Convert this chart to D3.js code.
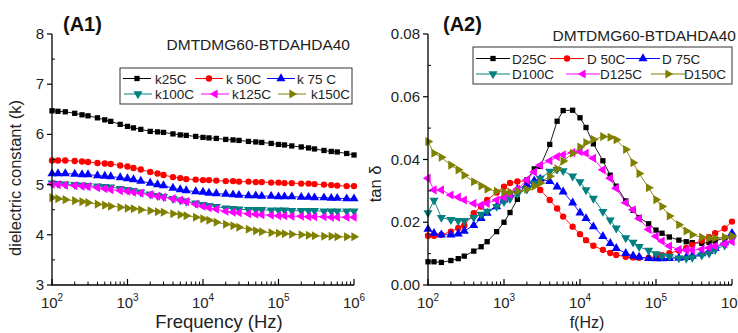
<!DOCTYPE html>
<html><head><meta charset="utf-8">
<script src="https://cdn.jsdelivr.net/npm/d3@7"></script>
<style>
html,body{margin:0;padding:0;background:#fff;}
svg{display:block;font-family:"Liberation Sans",Arial,sans-serif;}
</style></head>
<body>
<svg id="chart" width="738" height="333"></svg>
<script>
// ---- data ----
const freq = [100,120,150,200,250,300,400,500,600,800,
  1e3,1.2e3,1.5e3,2e3,2.5e3,3e3,4e3,5e3,6e3,8e3,
  1e4,1.2e4,1.5e4,2e4,2.5e4,3e4,4e4,5e4,6e4,8e4,
  1e5,1.2e5,1.5e5,2e5,2.5e5,3e5,4e5,5e5,6e5,8e5,1e6];

const k25C = [6.47,6.46,6.45,6.42,6.39,6.37,6.33,6.29,6.26,6.20,
  6.16,6.13,6.10,6.06,6.05,6.04,6.01,5.99,5.98,5.96,
  5.94,5.93,5.92,5.90,5.89,5.88,5.86,5.85,5.84,5.82,
  5.80,5.79,5.77,5.75,5.73,5.71,5.68,5.66,5.65,5.62,5.59];
const k50C = [5.48,5.48,5.48,5.47,5.46,5.45,5.43,5.42,5.41,5.38,
  5.36,5.33,5.30,5.25,5.22,5.19,5.15,5.13,5.11,5.10,
  5.09,5.09,5.08,5.07,5.07,5.06,5.06,5.05,5.05,5.04,
  5.04,5.03,5.03,5.02,5.02,5.01,5.00,4.99,4.98,4.97,4.97];
const k75C = [5.22,5.22,5.22,5.21,5.20,5.20,5.18,5.17,5.16,5.14,
  5.12,5.10,5.07,5.03,5.00,4.98,4.93,4.90,4.88,4.86,
  4.85,4.83,4.82,4.81,4.80,4.79,4.78,4.78,4.77,4.77,
  4.76,4.76,4.76,4.75,4.75,4.74,4.74,4.73,4.73,4.72,4.72];
const k100C = [5.03,5.02,5.01,5.00,4.99,4.98,4.97,4.96,4.95,4.92,
  4.90,4.88,4.85,4.81,4.78,4.76,4.72,4.69,4.67,4.63,
  4.60,4.58,4.56,4.53,4.52,4.51,4.50,4.50,4.50,4.49,
  4.49,4.49,4.48,4.48,4.48,4.48,4.47,4.47,4.47,4.47,4.47];
const k125C = [5.01,5.00,4.99,4.98,4.97,4.96,4.94,4.92,4.90,4.88,
  4.87,4.85,4.83,4.80,4.77,4.75,4.72,4.69,4.66,4.61,
  4.57,4.54,4.51,4.47,4.45,4.44,4.42,4.41,4.40,4.39,
  4.38,4.38,4.37,4.37,4.36,4.36,4.36,4.35,4.35,4.35,4.35];
const k150C = [4.74,4.72,4.70,4.68,4.66,4.64,4.61,4.59,4.57,4.55,
  4.53,4.52,4.50,4.48,4.46,4.45,4.42,4.40,4.38,4.35,
  4.32,4.29,4.25,4.21,4.18,4.15,4.11,4.08,4.06,4.04,
  4.03,4.02,4.01,4.00,3.99,3.98,3.97,3.97,3.96,3.96,3.96];

const D25C = [0.0074,0.0074,0.0072,0.0078,0.0084,0.0092,0.0108,0.0122,0.0138,0.0170,
  0.0200,0.0231,0.0273,0.0335,0.0370,0.0378,0.0448,0.0522,0.0556,0.0557,
  0.0533,0.0502,0.0450,0.0396,0.0350,0.0315,0.0268,0.0238,0.0215,0.0195,
  0.0175,0.0165,0.0153,0.0143,0.0138,0.0135,0.0133,0.0136,0.0140,0.0150,0.0155];
const D50C = [0.0157,0.0157,0.0160,0.0170,0.0182,0.0190,0.0229,0.0250,0.0271,0.0295,
  0.0313,0.0325,0.0330,0.0332,0.0320,0.0303,0.0271,0.0244,0.0218,0.0186,
  0.0162,0.0143,0.0125,0.0112,0.0102,0.0096,0.0090,0.0088,0.0087,0.0086,
  0.0090,0.0095,0.0101,0.0110,0.0118,0.0128,0.0142,0.0152,0.0165,0.0180,0.0202];
const D75C = [0.0178,0.0165,0.0160,0.0160,0.0163,0.0172,0.0190,0.0212,0.0229,0.0250,
  0.0271,0.0290,0.0305,0.0320,0.0332,0.0338,0.0330,0.0313,0.0297,0.0262,
  0.0230,0.0212,0.0186,0.0155,0.0133,0.0117,0.0101,0.0093,0.0089,0.0085,
  0.0084,0.0084,0.0085,0.0086,0.0088,0.0092,0.0100,0.0108,0.0117,0.0135,0.0165];
const D100C = [0.0230,0.0270,0.0215,0.0208,0.0205,0.0205,0.0215,0.0225,0.0235,0.0250,
  0.0265,0.0275,0.0290,0.0305,0.0325,0.0340,0.0362,0.0368,0.0364,0.0347,
  0.0329,0.0303,0.0276,0.0234,0.0207,0.0181,0.0150,0.0136,0.0122,0.0110,
  0.0099,0.0093,0.0091,0.0086,0.0085,0.0088,0.0095,0.0101,0.0112,0.0127,0.0145];
const D125C = [0.0340,0.0303,0.0303,0.0287,0.0280,0.0271,0.0260,0.0255,0.0260,0.0271,
  0.0280,0.0288,0.0305,0.0335,0.0360,0.0382,0.0396,0.0409,0.0415,0.0422,
  0.0425,0.0420,0.0404,0.0367,0.0340,0.0308,0.0262,0.0240,0.0212,0.0177,
  0.0155,0.0140,0.0124,0.0113,0.0111,0.0111,0.0114,0.0119,0.0124,0.0131,0.0138];
const D150C = [0.0457,0.0420,0.0407,0.0382,0.0367,0.0350,0.0329,0.0316,0.0305,0.0299,
  0.0296,0.0296,0.0299,0.0305,0.0315,0.0325,0.0347,0.0370,0.0395,0.0420,
  0.0440,0.0454,0.0464,0.0473,0.0471,0.0463,0.0432,0.0390,0.0355,0.0310,
  0.0272,0.0250,0.0220,0.0192,0.0172,0.0160,0.0152,0.0149,0.0150,0.0152,0.0156];

const kNames = ["k25C","k 50C","k 75 C","k100C","k125C","k150C"];
const dNames = ["D25C","D 50C","D 75C","D100C","D125C","D150C"];
const kTicks = [3,4,5,6,7,8];
const dTicks = [0.00,0.02,0.04,0.06,0.08];
const xTicks = [1e2,1e3,1e4,1e5,1e6];

// ---- styles ----
const colors = ["#000000","#ff0000","#0000ff","#008080","#ff00ff","#808000"];
const shapes = ["square","circle","up","down","left","right"];

const svg = d3.select("#chart");

function marker(g, shape, color, x, y){
  let sym, rot = 0, size;
  if (shape==="square"){ sym=d3.symbolSquare; size=28; }
  else if (shape==="circle"){ sym=d3.symbolCircle; size=32; }
  else { sym=d3.symbolTriangle; size=36;
    rot = {up:0, down:180, left:-90, right:90}[shape]; }
  g.append("path").attr("d", d3.symbol(sym, size)())
    .attr("transform", `translate(${x},${y}) rotate(${rot})`)
    .attr("fill", color);
}

function panel(cfg){
  const x = d3.scaleLog().domain([1e2,1e6]).range([cfg.x0, cfg.x1]);
  const y = d3.scaleLinear().domain(cfg.ydom).range([cfg.y1, cfg.y0]);
  const g = svg.append("g");

  // series
  cfg.series.forEach((vals,i)=>{
    const pts = freq.map((f,j)=>[f, vals[j]]);
    g.append("path").datum(pts)
      .attr("d", d3.line().x(d=>x(d[0])).y(d=>y(d[1])))
      .attr("fill","none").attr("stroke",colors[i]).attr("stroke-width",0.9);
  });
  cfg.series.forEach((vals,i)=>{
    freq.forEach((f,j)=> marker(g, shapes[i], colors[i], x(f), y(vals[j])));
  });

  // axes
  const ax = g.append("g").attr("stroke","#000").attr("fill","none");
  ax.append("line").attr("x1",cfg.x0).attr("x2",cfg.x0).attr("y1",cfg.y0).attr("y2",cfg.y1+0.5).attr("stroke-width",1.3);
  ax.append("line").attr("x1",cfg.x0).attr("x2",cfg.x1).attr("y1",cfg.y1).attr("y2",cfg.y1).attr("stroke-width",1.3);
  cfg.yticks.forEach(t=>{
    ax.append("line").attr("x1",cfg.x0-5).attr("x2",cfg.x0).attr("y1",y(t)).attr("y2",y(t)).attr("stroke-width",1.2);
    g.append("text").attr("x",cfg.x0-8).attr("y",y(t)+5).attr("text-anchor","end")
      .attr("font-size",15).attr("fill","#222").text(cfg.yfmt(t));
  });
  for (let k=0;k<cfg.yticks.length-1;k++){
    const t=(cfg.yticks[k]+cfg.yticks[k+1])/2;
    ax.append("line").attr("x1",cfg.x0).attr("x2",cfg.x0+3).attr("y1",y(t)).attr("y2",y(t)).attr("stroke-width",1);
  }
  xTicks.forEach((t,k)=>{
    ax.append("line").attr("x1",x(t)).attr("x2",x(t)).attr("y1",cfg.y1).attr("y2",cfg.y1-6).attr("stroke-width",1.2);
    const tx = g.append("text").attr("x",x(t)).attr("y",cfg.y1+23).attr("text-anchor","middle")
      .attr("font-size",15).attr("fill","#222");
    tx.append("tspan").text("10");
    tx.append("tspan").attr("dy",-7).attr("font-size",10).text(String(Math.round(Math.log10(t))));
    if (k<xTicks.length-1){
      for (let m=2;m<=9;m++){
        ax.append("line").attr("x1",x(t*m)).attr("x2",x(t*m)).attr("y1",cfg.y1).attr("y2",cfg.y1-3.5).attr("stroke-width",1);
      }
    }
  });

  // titles
  g.append("text").attr("x",cfg.xtx).attr("y",328).attr("text-anchor","middle")
    .attr("font-size",cfg.xtSize).attr("fill","#222").text(cfg.xtitle);
  g.append("text").attr("transform",`translate(${cfg.ytx},${cfg.yty}) rotate(-90)`)
    .attr("text-anchor","middle").attr("font-size",16.5).attr("fill","#222").text(cfg.ytitle);
  g.append("text").attr("x",cfg.labx).attr("y",31).attr("font-size",20).attr("font-weight","bold")
    .attr("fill","#111").text(cfg.label);
  g.append("text").attr("x",cfg.titleX).attr("y",cfg.titleY).attr("text-anchor","end")
    .attr("font-size",15.5).attr("fill","#222").text("DMTDMG60-BTDAHDA40");

  // legend
  const L = cfg.leg;
  const lg = g.append("g");
  lg.append("rect").attr("x",L.x).attr("y",L.y).attr("width",L.w).attr("height",L.h)
    .attr("fill","#fff").attr("stroke","#333").attr("stroke-width",1);
  for (let i=0;i<6;i++){
    const r = Math.floor(i/3), c = i%3;
    const cy = L.rows[r], mx = L.mk[r][c], tx = L.tx[r][c];
    lg.append("line").attr("x1",mx-L.half).attr("x2",mx+L.half).attr("y1",cy).attr("y2",cy)
      .attr("stroke",colors[i]).attr("stroke-width",1);
    marker(lg, shapes[i], colors[i], mx, cy);
    lg.append("text").attr("x",tx).attr("y",cy+5)
      .attr("font-size",13.5).attr("fill","#222").text(cfg.names[i]);
  }
}

panel({x0:52, x1:354, y0:34, y1:285, ydom:[3,8], yticks:kTicks, yfmt:d=>d3.format("d")(d),
  series:[k25C,k50C,k75C,k100C,k125C,k150C], names:kNames,
  xtitle:"Frequency (Hz)", xtx:219, xtSize:18.5, ytitle:"dielectric constant (k)", ytx:21, yty:178,
  label:"(A1)", labx:63, titleX:350, titleY:50,
  leg:{x:120, y:68, w:232, h:36, rows:[78.5,94], half:14,
       mk:[[137,209,281],[138,215,292]], tx:[[155,226,297],[155,232,311]]}});

panel({x0:428, x1:732, y0:34, y1:285, ydom:[0,0.08], yticks:dTicks, yfmt:d=>d3.format(".2f")(d),
  series:[D25C,D50C,D75C,D100C,D125C,D150C], names:dNames,
  xtitle:"f(Hz)", xtx:587, xtSize:16, ytitle:"tan δ", ytx:381, yty:184,
  label:"(A2)", labx:443, titleX:736, titleY:41,
  leg:{x:473, y:47, w:259, h:37, rows:[58.5,74], half:17,
       mk:[[493,567,643],[493,583,668]], tx:[[512,587,662],[512,600,684]]}});
</script>
</body></html>
